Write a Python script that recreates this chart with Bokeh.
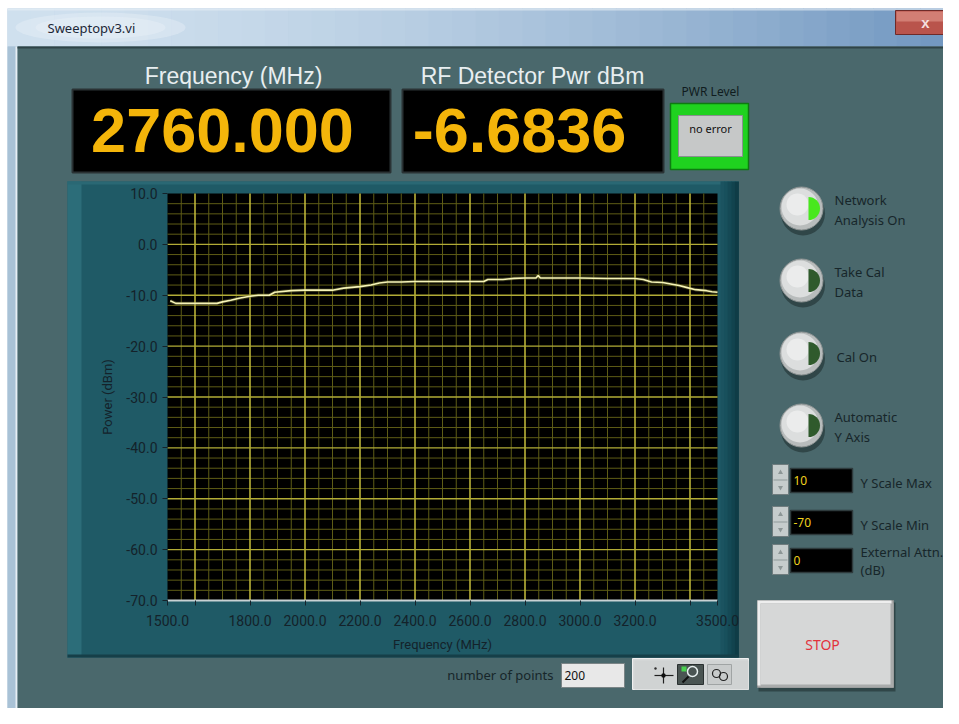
import math
from bokeh.plotting import figure
from bokeh.models import Range1d, LinearAxis, FixedTicker, PrintfTickFormatter
from bokeh.embed import file_html
from bokeh.resources import INLINE
from bokeh.core.properties import value

# ---------------- data ----------------
FREQ_MHZ = [1510, 1530, 1560, 1600, 1640, 1680, 1700, 1730, 1760, 1800, 1830, 1870,
            1890, 1950, 2000, 2050, 2100, 2140, 2200, 2240, 2270, 2300, 2350, 2400,
            2500, 2600, 2650, 2665, 2700, 2720, 2760, 2800, 2840, 2848, 2856, 2900,
            3000, 3100, 3200, 3230, 3260, 3300, 3330, 3360, 3390, 3420, 3460, 3480, 3500]
POWER_DBM = [-11.1, -11.6, -11.6, -11.6, -11.6, -11.6, -11.3, -11.0, -10.6, -10.2, -10.0, -10.0,
             -9.4, -9.1, -9.0, -9.0, -9.0, -8.6, -8.3, -8.0, -7.6, -7.4, -7.4, -7.3,
             -7.3, -7.3, -7.3, -6.9, -6.9, -6.9, -6.68, -6.6, -6.6, -6.1, -6.6, -6.6,
             -6.6, -6.7, -6.7, -6.9, -7.4, -7.5, -7.8, -8.1, -8.5, -8.9, -9.1, -9.3, -9.4]

FREQ_RANGE = (1500, 3500)
PWR_RANGE = (-70, 10)
X_TICK_LABELED = [1500, 1800, 2000, 2200, 2400, 2600, 2800, 3000, 3200, 3500]
X_TICK_UNLABELED = [1600, 3400]
X_GRID_MAJOR = [1600, 1800, 2000, 2200, 2400, 2600, 2800, 3000, 3200, 3400]
X_GRID_MINOR_STEP = 50
Y_TICKS = [-70, -60, -50, -40, -30, -20, -10, 0, 10]
Y_GRID_MAJOR = [-60, -50, -40, -30, -20, -10, 0]
Y_GRID_MINOR_STEP = 2

FREQ_READOUT = "2760.000"
PWR_READOUT = "-6.6836"
Y_SCALE_MAX = "10"
Y_SCALE_MIN = "-70"
EXT_ATTN = "0"
NUM_POINTS = "200"

# ---------------- layout (pixel space of the window) ----------------
W, H = 943, 708
VX0, VX1, VY0, VY1 = 0, 943, 0, 708
PL, PR, PT, PB = 167, 717, 193, 600      # graph plot area in pixels

kx = (FREQ_RANGE[1] - FREQ_RANGE[0]) / (PR - PL)
ky = (PWR_RANGE[1] - PWR_RANGE[0]) / (PB - PT)
freq_rng = Range1d(FREQ_RANGE[0] - (PL - VX0) * kx, FREQ_RANGE[1] + (VX1 - PR) * kx)
pwr_rng = Range1d(PWR_RANGE[0] - (VY1 - PB) * ky, PWR_RANGE[1] + (PT - VY0) * ky)

p = figure(width=W, height=H, x_range=Range1d(VX0, VX1), y_range=Range1d(VY1, VY0),
           output_backend="svg", toolbar_location=None,
           x_axis_location=None, y_axis_location=None, min_border=0,
           outline_line_color=None, background_fill_color="#ffffff",
           border_fill_color="#ffffff")
p.grid.visible = False
p.extra_x_ranges = {"freq": freq_rng}
p.extra_y_ranges = {"pwr": pwr_rng}

UI = "Noto Sans"


def box(l, t, r, b, fill, line=None, lw=1, alpha=1.0):
    p.quad(left=[l], right=[r], top=[t], bottom=[b], fill_color=fill, fill_alpha=alpha,
           line_color=line, line_width=lw)


def txt(x, y, s, size, color, font=UI, align="left", baseline="middle", style="normal", angle=0):
    p.text(x=[x], y=[y], text=[s], text_font=value(font), text_font_size=f"{size}px",
           text_color=color, text_align=align, text_baseline=baseline,
           text_font_style=style, angle=angle)


def mix(c1, c2, t):
    a = [int(c1[i:i + 2], 16) for i in (1, 3, 5)]
    b = [int(c2[i:i + 2], 16) for i in (1, 3, 5)]
    return "#%02x%02x%02x" % tuple(round(a[i] + (b[i] - a[i]) * t) for i in range(3))


# ---------------- window chrome ----------------
box(7, 8, 943, 708, "#b3cade")
n = 40
for i in range(n):
    x0 = 7 + (943 - 7) * i / n
    x1 = 7 + (943 - 7) * (i + 1) / n
    box(x0, 8, x1 + 0.5, 46, mix("#cfe0ee", "#6f95bf", (i / n) ** 1.6))
box(7, 8, 943, 10, "#e8f0f7", alpha=0.6)
p.ellipse(x=[100], y=[27], width=170, height=30, fill_color="#eef4f9", fill_alpha=0.35, line_color=None)
p.ellipse(x=[100], y=[27], width=130, height=22, fill_color="#eef4f9", fill_alpha=0.35, line_color=None)
txt(47, 27, "Sweeptopv3.vi", 13, "#1d2838")
# close button
box(895, 10, 956, 34, "#b9544c", line="#6e2a28")
box(896, 11, 955, 21, "#d27e74")
txt(925, 22, "x", 15, "#f4dede", font="Liberation Sans", align="center", style="bold")
# side frame
box(7, 46, 17, 708, "#a9c2d6")
box(15, 46, 17, 708, "#e6eef4")

# ---------------- panel ----------------
box(17, 46, 953, 713, "#4a686c")
box(17, 46, 953, 48, "#2f4448")

# top indicators
txt(233, 75, "Frequency (MHz)", 23, "#e8eef0", font="Liberation Sans", align="center")
txt(532, 75, "RF Detector Pwr dBm", 23, "#e8eef0", font="Liberation Sans", align="center")
box(72, 89, 390, 172, "#000000", line="#2a3234", lw=2)
box(402, 89, 663, 172, "#000000", line="#2a3234", lw=2)
txt(222, 130, FREQ_READOUT, 63, "#f4b50a", font="Liberation Sans", align="center", style="bold")
txt(519, 130, PWR_READOUT, 63, "#f4b50a", font="Liberation Sans", align="center", style="bold")
txt(710, 91, "PWR Level", 12, "#101c1e", align="center")
box(670, 103, 748, 169, "#1fd21f", line="#0e7a12", lw=1.5)
box(678, 115, 742, 156, "#c6c8c8", line="#8a9090")
txt(710, 128, "no error", 11, "#101010", align="center")

# round buttons
BTN_Y = [208, 280, 353, 425]
BTN_LABELS = [["Network", "Analysis On"], ["Take Cal", "Data"], ["Cal On"], ["Automatic", "Y Axis"]]
for k, (by, lab) in enumerate(zip(BTN_Y, BTN_LABELS)):
    p.circle(x=[802.5], y=[by + 5], radius=22, fill_color="#2d4245", line_color=None, fill_alpha=0.9)
    p.circle(x=[801], y=[by], radius=21.5, fill_color="#b8bcbc", line_color="#8e9494")
    p.circle(x=[799.5], y=[by - 1.5], radius=18.5, fill_color="#dcdede", line_color=None)
    p.circle(x=[797], y=[by - 4], radius=11, fill_color="#ebecec", line_color=None)
    col = "#48e81e" if k == 0 else "#2f5a2c"
    p.wedge(x=[808], y=[by], radius=11.5, start_angle=-math.pi / 2, end_angle=math.pi / 2,
            fill_color=col, line_color=None)
    if len(lab) == 2:
        txt(834, by - 9, lab[0], 13, "#17262a")
        txt(834, by + 11, lab[1], 13, "#17262a")
    else:
        txt(836, by + 3, lab[0], 13, "#17262a")

# numeric controls
ROWS = [(480, Y_SCALE_MAX, ["Y Scale Max"]), (522, Y_SCALE_MIN, ["Y Scale Min"]),
        (560, EXT_ATTN, ["External Attn.", "(dB)"])]
for cy, val, lab in ROWS:
    box(772, cy - 16, 788, cy + 14, "#c5cccc", line="#6f7c7e")
    box(773, cy - 1, 787, cy + 0, "#8e9a9a")
    p.scatter(x=[780], y=[cy - 8], marker="triangle", size=5, fill_color="#8c9696", line_color=None)
    p.scatter(x=[780], y=[cy + 7], marker="inverted_triangle", size=5, fill_color="#8c9696", line_color=None)
    box(790, cy - 12, 852, cy + 12, "#000000", line="#2e3a3c", lw=1.5)
    txt(793, cy, val, 12, "#f0d21e")
    if len(lab) == 1:
        txt(860, cy + 2, lab[0], 13, "#17262a")
    else:
        txt(860, cy - 9, lab[0], 13, "#17262a")
        txt(860, cy + 9, lab[1], 13, "#17262a")

# STOP button
box(758, 602, 895, 691, "#2d4245", alpha=0.9)
box(757, 600, 893, 687, "#aaaaaa", line="#8c9090")
box(757, 600, 891, 685, "#eeeeee")
box(760, 603, 893, 687, "#a9abab")
box(760, 603, 890, 684, "#d6d7d7")
txt(822, 644, "STOP", 14, "#e2323c", align="center")

# number of points + graph palette
txt(553, 674, "number of points", 13, "#17262a", align="right")
box(561, 663, 624, 687, "#e8e8e8", line="#7a8486")
txt(564, 675, NUM_POINTS, 12, "#101010")
box(632, 658, 748, 689, "#d7d9d9", line="#f0f0f0")
box(634, 660, 748, 689, "#d0d3d3")
p.segment(x0=[654], y0=[675], x1=[673], y1=[675], line_color="#202020", line_width=1.2)
p.segment(x0=[663], y0=[667], x1=[663], y1=[683], line_color="#202020", line_width=1.2)
p.circle(x=[663], y=[675], radius=2.2, fill_color="#101010", line_color=None)
p.circle(x=[655], y=[668], radius=1.2, fill_color="#303030", line_color=None)
box(677, 664, 703, 684, "#4a5452", line="#2a3030")
p.circle(x=[692], y=[671], radius=5, fill_color=None, line_color="#e8f0f0", line_width=1.5)
box(681, 666, 686, 671, "#4ad050")
p.segment(x0=[682], y0=[682], x1=[688], y1=[676], line_color="#101010", line_width=2)
box(707, 664, 731, 684, "#c8cbcb", line="#a0a4a4")
p.circle(x=[716], y=[673], radius=4, fill_color=None, line_color="#202020", line_width=1.2)
p.circle(x=[723], y=[676], radius=4, fill_color=None, line_color="#202020", line_width=1.2)

# graph container
box(67, 181, 738, 657, "#1f5a66")
box(67, 181, 81, 657, "#2c6d79")
box(67, 181, 738, 184, "#2a6874")
for i, c in enumerate(["#1b5360", "#18505c", "#154955", "#12434e", "#0f3c46"]):
    box(720 + i * 3.6, 181, 724 + i * 3.6, 657, c)
box(67, 654, 738, 657, "#163f48")

# ---------------- the graph (drawn in data space) ----------------
R = dict(x_range_name="freq", y_range_name="pwr")
p.quad(left=[FREQ_RANGE[0]], right=[FREQ_RANGE[1]], bottom=[PWR_RANGE[0]], top=[PWR_RANGE[1]],
       fill_color="#000000", line_color=None, **R)

xminor = [f for f in range(FREQ_RANGE[0] + X_GRID_MINOR_STEP, FREQ_RANGE[1], X_GRID_MINOR_STEP)
          if f not in X_GRID_MAJOR]
yminor = [v for v in range(PWR_RANGE[0] + Y_GRID_MINOR_STEP, PWR_RANGE[1], Y_GRID_MINOR_STEP)
          if v not in Y_GRID_MAJOR]
p.segment(x0=xminor, x1=xminor, y0=[PWR_RANGE[0]] * len(xminor), y1=[PWR_RANGE[1]] * len(xminor),
          line_color="#5e5c16", line_width=1, **R)
p.segment(x0=[FREQ_RANGE[0]] * len(yminor), x1=[FREQ_RANGE[1]] * len(yminor), y0=yminor, y1=yminor,
          line_color="#5e5c16", line_width=1, **R)
p.segment(x0=X_GRID_MAJOR, x1=X_GRID_MAJOR, y0=[PWR_RANGE[0]] * len(X_GRID_MAJOR),
          y1=[PWR_RANGE[1]] * len(X_GRID_MAJOR), line_color="#c6be3c", line_width=1.5, **R)
p.segment(x0=[FREQ_RANGE[0]] * len(Y_GRID_MAJOR), x1=[FREQ_RANGE[1]] * len(Y_GRID_MAJOR),
          y0=Y_GRID_MAJOR, y1=Y_GRID_MAJOR, line_color="#b2ac36", line_width=1.3, **R)

p.line(FREQ_MHZ, POWER_DBM, line_color="#7a7a38", line_width=3.5, line_alpha=0.45, **R)
p.line(FREQ_MHZ, POWER_DBM, line_color="#f6f4b8", line_width=1.6, **R)

AX_FONT = "Roboto"
AX_COL = "#14222a"
xaxis = LinearAxis(x_range_name="freq", y_range_name="pwr", fixed_location=PWR_RANGE[0],
                   bounds=FREQ_RANGE,
                   ticker=FixedTicker(ticks=X_TICK_LABELED, minor_ticks=X_TICK_UNLABELED),
                   formatter=PrintfTickFormatter(format="%.1f"),
                   axis_label="Frequency (MHz)")
yaxis = LinearAxis(x_range_name="freq", y_range_name="pwr", fixed_location=FREQ_RANGE[0],
                   bounds=PWR_RANGE, ticker=FixedTicker(ticks=Y_TICKS, minor_ticks=[]),
                   formatter=PrintfTickFormatter(format="%.1f"),
                   axis_label="Power (dBm)")
for ax in (xaxis, yaxis):
    ax.major_tick_line_color = AX_COL
    ax.minor_tick_line_color = AX_COL
    ax.major_tick_in = 0
    ax.major_tick_out = 5
    ax.minor_tick_in = 0
    ax.minor_tick_out = 5
    ax.major_label_text_font = AX_FONT
    ax.major_label_text_font_size = "14px"
    ax.major_label_text_color = AX_COL
    ax.major_label_standoff = 5
    ax.axis_label_text_font = AX_FONT
    ax.axis_label_text_font_size = "13px"
    ax.axis_label_text_font_style = "normal"
    ax.axis_label_text_color = AX_COL
    ax.axis_label_standoff = 8
xaxis.major_label_standoff = 9
xaxis.axis_line_color = "#c8d2d4"
xaxis.axis_line_width = 2
yaxis.axis_line_color = None
p.add_layout(xaxis, "below")
p.add_layout(yaxis, "left")

open("out.html", "w").write(file_html(p, INLINE))
